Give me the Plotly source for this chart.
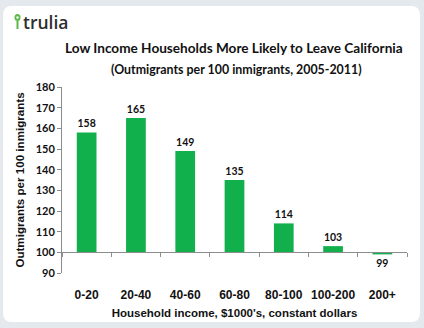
import plotly.graph_objects as go

# Outmigrants per 100 inmigrants by household income band
categories = ["0-20", "20-40", "40-60", "60-80", "80-100", "100-200", "200+"]
values = [158, 165, 149, 135, 114, 103, 99]
baseline = 100
y_ticks = [90, 100, 110, 120, 130, 140, 150, 160, 170, 180]

W, H = 424, 328
ML, MR, MT, MB = 62, 17, 87, 55
PW, PH = W - ML - MR, H - MT - MB


def px(x):
    return (x - ML) / PW


def py(y):
    return (H - MB - y) / PH


GREEN = "#12b04c"
AXIS = "#8c8c8c"
TXT = "#111111"

fig = go.Figure()

fig.add_trace(go.Bar(
    x=categories,
    y=[v - baseline for v in values],
    base=baseline,
    marker=dict(color=GREEN, line=dict(width=0)),
    width=0.4,
    text=[str(v) for v in values],
    textposition="outside",
    textfont=dict(family="Lato", size=10.5, color=TXT, weight="bold"),
    cliponaxis=False,
    hoverinfo="skip",
))

# Category boundary ticks along the 100 baseline
fig.add_trace(go.Scatter(x=[-0.5, 6.5], y=[None, None], xaxis="x2", yaxis="y",
                         showlegend=False, hoverinfo="skip"))

# Rounded white card behind everything
x0, x1, y0, y1, r = 3, 420, 6, 322, 9
path = (
    f"M {px(x0 + r)},{py(y0)} L {px(x1 - r)},{py(y0)} "
    f"Q {px(x1)},{py(y0)} {px(x1)},{py(y0 + r)} "
    f"L {px(x1)},{py(y1 - r)} Q {px(x1)},{py(y1)} {px(x1 - r)},{py(y1)} "
    f"L {px(x0 + r)},{py(y1)} Q {px(x0)},{py(y1)} {px(x0)},{py(y1 - r)} "
    f"L {px(x0)},{py(y0 + r)} Q {px(x0)},{py(y0)} {px(x0 + r)},{py(y0)} Z"
)
shapes = [
    dict(type="path", path=path, xref="paper", yref="paper",
         fillcolor="white", line=dict(width=0), layer="below"),
    # logo pin
    dict(type="line", xref="paper", yref="paper",
         x0=px(17.5), x1=px(17.5), y0=py(21), y1=py(29),
         line=dict(color="#5cb947", width=2)),
    dict(type="circle", xref="paper", yref="paper",
         x0=px(14.5), x1=px(20.5), y0=py(14), y1=py(21),
         fillcolor="#5cb947", line=dict(width=0)),
    dict(type="circle", xref="paper", yref="paper",
         x0=px(16.3), x1=px(18.7), y0=py(16.3), y1=py(18.8),
         fillcolor="white", line=dict(width=0)),
]

annotations = [
    dict(text="trulia", xref="paper", yref="paper", x=px(20.5), y=py(22),
         xanchor="left", yanchor="middle", showarrow=False,
         font=dict(family="Open Sans", size=17.5, color="#2e2e2e", weight=600)),
    dict(text="<b>Low Income Households More Likely to Leave California</b>",
         xref="paper", yref="paper", x=px(234), y=py(48),
         xanchor="center", yanchor="middle", showarrow=False,
         font=dict(family="Lato", size=13.6, color=TXT)),
    dict(text="<b>(Outmigrants per 100 inmigrants, 2005-2011)</b>",
         xref="paper", yref="paper", x=px(236), y=py(69),
         xanchor="center", yanchor="middle", showarrow=False,
         font=dict(family="Lato", size=12.4, color=TXT)),
]

fig.update_layout(
    width=W, height=H,
    margin=dict(l=ML, r=MR, t=MT, b=MB),
    paper_bgcolor="#e4e9ed",
    plot_bgcolor="rgba(0,0,0,0)",
    showlegend=False,
    bargap=0.6,
    shapes=shapes,
    annotations=annotations,
    xaxis=dict(
        type="category", range=[-0.5, 6.5],
        showline=False, showgrid=False, zeroline=False,
        ticks="outside", ticklen=11, tickcolor="rgba(0,0,0,0)",
        tickfont=dict(family="Arial", size=12, color=TXT, weight="bold"),
        title=dict(text="<b>Household income, $1000's, constant dollars</b>",
                   font=dict(family="Arial", size=11.5, color=TXT), standoff=7),
        fixedrange=True,
    ),
    xaxis2=dict(
        type="linear", range=[-0.5, 6.5], overlaying="x",
        anchor="free", position=(baseline - 90) / 90,
        showline=True, linecolor=AXIS, linewidth=1,
        tickmode="array", tickvals=[i - 0.5 for i in range(len(categories) + 1)],
        ticks="outside", ticklen=4, tickcolor=AXIS,
        showticklabels=False, showgrid=False, zeroline=False,
    ),
    yaxis=dict(
        range=[90, 180], tickmode="array", tickvals=y_ticks,
        showline=True, linecolor=AXIS, linewidth=1,
        ticks="outside", ticklen=4, tickcolor=AXIS,
        showgrid=False, zeroline=False,
        tickfont=dict(family="Lato", size=11, color=TXT, weight="bold"),
        title=dict(text="<b>Outmigrants per 100 inmigrants</b>",
                   font=dict(family="Arial", size=11.6, color=TXT), standoff=8),
        fixedrange=True,
    ),
)

fig.write_html("out.html")
